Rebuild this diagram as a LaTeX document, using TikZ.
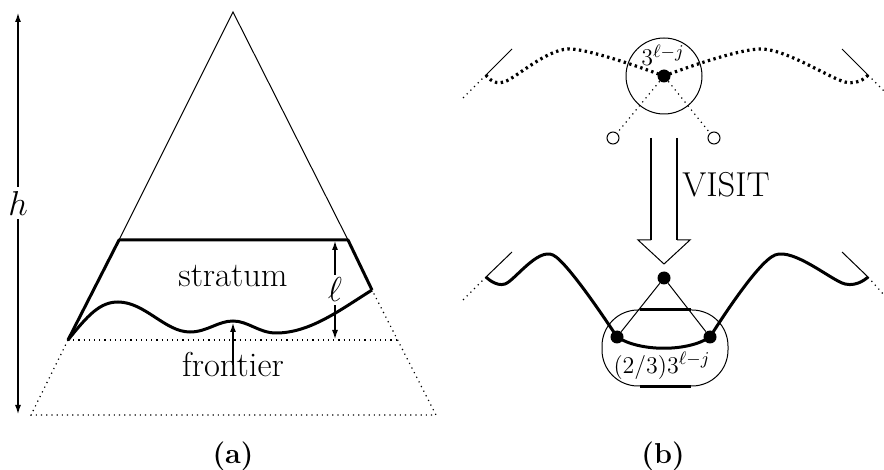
\documentclass[tikz,border=0pt]{standalone}
\usepackage{amsmath,amssymb}
\usepackage{tikz}
\usetikzlibrary{arrows.meta}

\begin{document}
\begin{tikzpicture}[x=0.5pt,y=-0.5pt,
  every node/.style={font=\fontsize{17.28}{20}\selectfont},
  thin line/.style={line width=0.5pt},
  thick line/.style={line width=1.5pt},
  dotline/.style={line width=0.6pt,dash pattern=on 0.6pt off 2pt},
  bigdots/.style={line width=1.6pt,dash pattern=on 1.2pt off 1.7pt},
  arr/.style={line width=1pt,{Latex[length=5pt,width=3pt]}-{Latex[length=5pt,width=3pt]}},
  blob/.style={circle,fill=black,inner sep=0pt,minimum size=6.5pt},
  hole/.style={circle,draw,line width=0.5pt,inner sep=0pt,minimum size=6pt},
  small/.style={font=\fontsize{12.5}{15}\selectfont}]
\useasboundingbox (0,0) rectangle (884,470);

% (a) the tree
\coordinate (apex) at (233,12);
\coordinate (tl) at (119,240);
\coordinate (tr) at (348,240);
\coordinate (bl) at (68,340);
\coordinate (br) at (372,290);
\coordinate (fl) at (31,415);
\coordinate (fr) at (436,415);
\coordinate (dr) at (398,340);
\draw[thin line] (tl) -- (apex) -- (tr);
\draw[thick line,line join=round] (bl) -- (tl) -- (tr) -- (br);
\draw[thick line] (bl) .. controls (88,315) and (100,302) .. (118,302)
  .. controls (145,302) and (165,332) .. (190,332)
  .. controls (207,332) and (218,321) .. (233,321)
  .. controls (248,321) and (259,333) .. (276,333)
  .. controls (310,333) and (340,310) .. (br);
\draw[dotline] (bl) -- (fl) -- (fr) -- (br);
\draw[dotline] (bl) -- (dr);
\node[anchor=base] (stratum) at (233,287) {stratum};
\coordinate (lt) at (335,240);
\coordinate (lb) at (335,340);
\draw[arr] (lt) -- node[fill=white,inner sep=1.5pt] (ell) {$\ell$} (lb);
\coordinate (dip) at (233,322);
\node[anchor=base] (front) at (233,377) {frontier};
\draw[line width=1pt,-{Latex[length=5pt,width=3pt]}] (front.center) -- (dip);
\coordinate (htop) at (18,12);
\coordinate (hbot) at (18,415);
\draw[arr] (htop) -- node[pos=0.475,fill=white,inner sep=2pt] (hlab) {$h$} (hbot);
\node[font=\fontsize{14.4}{17}\selectfont\bfseries,anchor=base] (capa) at (233,463) {(a)};

% (b) one visit
\coordinate (ul) at (486,75);
\coordinate (ur) at (868,75);
\node[draw,circle,thin line,minimum size=38pt,inner sep=0pt] (ring) at (664,76) {};
\node[blob] (top) at (664,76) {};
\draw[bigdots] plot[smooth] coordinates {(ul) (504,82) (568,49) (top)};
\draw[bigdots] plot[smooth] coordinates {(top) (762,49) (845,82) (ur)};
\draw[thin line] (ul) -- ++(26,-26);
\draw[dotline] (ul) -- ++(-25,25);
\draw[thin line] (ur) -- ++(-26,-26);
\draw[dotline] (ur) -- ++(18,18);
\node[small,anchor=base] (toplab) at (663,66) {$3^{\ell-j}$};
\node[hole] (kidl) at (613,138) {};
\node[hole] (kidr) at (714,138) {};
\draw[dotline] (top) -- (kidl);
\draw[dotline] (top) -- (kidr);

\draw[line width=1pt] (651,138) -- (651,240);
\draw[line width=1pt] (677,138) -- (677,240);
\draw[thin line,line join=miter] (651,240) -- (638,240) -- (664,264) -- (690,240) -- (677,240);
\node[anchor=base] (visit) at (726,197) {VISIT};

\coordinate (ll) at (486,277);
\coordinate (lr) at (868,277);
\node[draw,thin line,rounded corners=18pt,minimum width=63pt,minimum height=38pt,inner sep=0pt] (pool) at (665,348) {};
\draw[thick line] ([xshift=-12.75pt]pool.north) -- ([xshift=12.75pt]pool.north);
\draw[thick line] ([xshift=-12.75pt]pool.south) -- ([xshift=12.75pt]pool.south);
\node[blob] (apexb) at (664,278) {};
\node[blob] (left) at (617,337) {};
\node[blob] (right) at (710,337) {};
\draw[thick line] plot[smooth] coordinates {(ll) (505,284) (553,255) (left)};
\draw[thick line] (left.center) .. controls (640,352) and (688,352) .. (right.center);
\draw[thick line] plot[smooth] coordinates {(right) (775,255) (845,284) (lr)};
\draw[thin line] (left) -- (apexb) -- (right);
\draw[thin line] (ll) -- ++(26,-25);
\draw[dotline] (ll) -- ++(-25,25);
\draw[thin line] (lr) -- ++(-26,-25);
\draw[dotline] (lr) -- ++(16,18);
\node[small,anchor=base] (poollab) at (662,373) {$(2/3)3^{\ell-j}$};
\node[font=\fontsize{14.4}{17}\selectfont\bfseries,anchor=base] (capb) at (663,463) {(b)};
\end{tikzpicture}
\end{document}
